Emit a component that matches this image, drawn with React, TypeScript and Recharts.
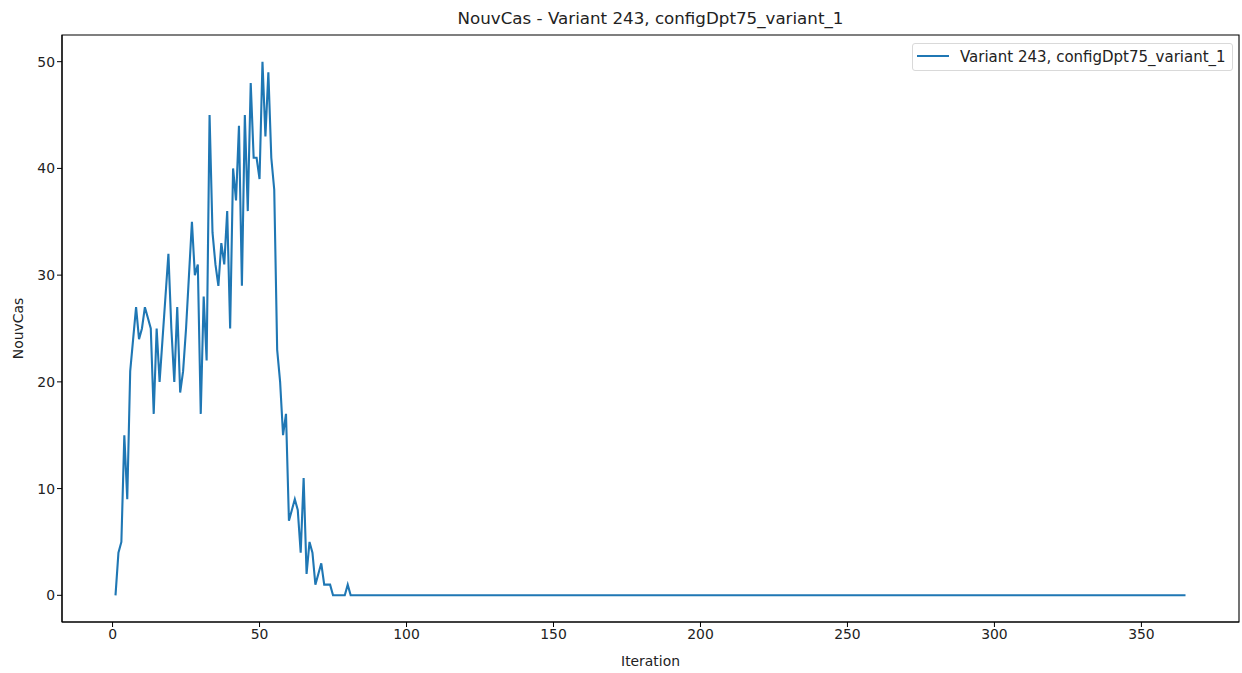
import { LineChart, Line, XAxis, YAxis, ReferenceArea } from "recharts"

// NouvCas per iteration (iterations 1..80)
const nouvCasEarly = [
  0, 4, 5, 15, 9, 21, 24, 27, 24, 25,
  27, 26, 25, 17, 25, 20, 24, 28, 32, 25,
  20, 27, 19, 21, 25, 30, 35, 30, 31, 17,
  28, 22, 45, 34, 31, 29, 33, 31, 36, 25,
  40, 37, 44, 29, 45, 36, 48, 41, 41, 39,
  50, 43, 49, 41, 38, 23, 20, 15, 17, 7,
  8, 9, 8, 4, 11, 2, 5, 4, 1, 2,
  3, 1, 1, 1, 0, 0, 0, 0, 0, 1,
]

// iterations 81..365 stay flat at zero
const nouvCasTail = [
  0, 0, 0, 0, 0, 0, 0, 0, 0, 0, 0, 0, 0, 0, 0,
  0, 0, 0, 0, 0, 0, 0, 0, 0, 0, 0, 0, 0, 0, 0,
  0, 0, 0, 0, 0, 0, 0, 0, 0, 0, 0, 0, 0, 0, 0,
  0, 0, 0, 0, 0, 0, 0, 0, 0, 0, 0, 0, 0, 0, 0,
  0, 0, 0, 0, 0, 0, 0, 0, 0, 0, 0, 0, 0, 0, 0,
  0, 0, 0, 0, 0, 0, 0, 0, 0, 0, 0, 0, 0, 0, 0,
  0, 0, 0, 0, 0, 0, 0, 0, 0, 0, 0, 0, 0, 0, 0,
  0, 0, 0, 0, 0, 0, 0, 0, 0, 0, 0, 0, 0, 0, 0,
  0, 0, 0, 0, 0, 0, 0, 0, 0, 0, 0, 0, 0, 0, 0,
  0, 0, 0, 0, 0, 0, 0, 0, 0, 0, 0, 0, 0, 0, 0,
  0, 0, 0, 0, 0, 0, 0, 0, 0, 0, 0, 0, 0, 0, 0,
  0, 0, 0, 0, 0, 0, 0, 0, 0, 0, 0, 0, 0, 0, 0,
  0, 0, 0, 0, 0, 0, 0, 0, 0, 0, 0, 0, 0, 0, 0,
  0, 0, 0, 0, 0, 0, 0, 0, 0, 0, 0, 0, 0, 0, 0,
  0, 0, 0, 0, 0, 0, 0, 0, 0, 0, 0, 0, 0, 0, 0,
  0, 0, 0, 0, 0, 0, 0, 0, 0, 0, 0, 0, 0, 0, 0,
  0, 0, 0, 0, 0, 0, 0, 0, 0, 0, 0, 0, 0, 0, 0,
  0, 0, 0, 0, 0, 0, 0, 0, 0, 0, 0, 0, 0, 0, 0,
  0, 0, 0, 0, 0, 0, 0, 0, 0, 0, 0, 0, 0, 0, 0,
]

const xTicks = [0, 50, 100, 150, 200, 250, 300, 350]
const yTicks = [0, 10, 20, 30, 40, 50]

const seriesName = "Variant 243, configDpt75_variant_1"
const title = "NouvCas - " + seriesName

const FONT = "'DejaVu Sans', sans-serif"
const LINE_COLOR = "#1f77b4"

// matplotlib style 5% margins around the data
const X_DOMAIN: [number, number] = [-17.2, 383.2]
const Y_DOMAIN: [number, number] = [-2.5, 52.5]

function LegendBox() {
  return (
    <div
      style={{
        position: "absolute",
        top: 43,
        left: 912,
        width: 321,
        height: 28,
        boxSizing: "border-box",
        display: "flex",
        alignItems: "center",
        border: "1px solid #d9d9d9",
        borderRadius: 3,
        background: "rgba(255,255,255,0.8)",
        paddingLeft: 4,
        fontFamily: FONT,
        fontSize: "15px",
        lineHeight: "16px",
        color: "#222",
        whiteSpace: "nowrap",
        zIndex: 2,
      }}
    >
      <svg width={32} height={6} style={{ marginRight: 11, marginTop: -3 }}>
        <line x1={0} y1={3} x2={32} y2={3} stroke={LINE_COLOR} strokeWidth={2} />
      </svg>
      <span>{seriesName}</span>
    </div>
  )
}

export default function App() {
  const all = [...nouvCasEarly, ...nouvCasTail]
  const data = all.map((v, i) => ({ iteration: i + 1, nouvCas: v }))

  const tickStyle = { fontFamily: FONT, fontSize: 13.9, fill: "#222" }

  return (
    <div style={{ position: "absolute", left: 0, top: 0, width: 1242, height: 673, background: "#fff" }}>
      <div
        style={{
          position: "absolute",
          top: 8,
          left: 62,
          width: 1177,
          textAlign: "center",
          fontFamily: FONT,
          fontSize: 16.7,
          color: "#222",
          zIndex: 2,
        }}
      >
        {title}
      </div>
      <LegendBox />
      <LineChart width={1242} height={673} data={data} margin={{ top: 35, right: 3, left: 0, bottom: 21 }}>
        <XAxis
          dataKey="iteration"
          type="number"
          domain={X_DOMAIN}
          allowDataOverflow
          ticks={xTicks}
          tick={tickStyle}
          tickLine={{ stroke: "#000" }}
          axisLine={{ stroke: "#000", strokeWidth: 1.1 }}
          tickSize={5}
          height={30}
          label={{ value: "Iteration", position: "insideBottom", offset: -14, style: { fontFamily: FONT, fontSize: 13.9, fill: "#222" } }}
        />
        <YAxis
          type="number"
          domain={Y_DOMAIN}
          allowDataOverflow
          ticks={yTicks}
          tick={tickStyle}
          tickLine={{ stroke: "#000" }}
          axisLine={{ stroke: "#000", strokeWidth: 1.1 }}
          tickSize={5}
          width={62}
          label={{ value: "NouvCas", angle: -90, position: "insideLeft", offset: 18, style: { fontFamily: FONT, fontSize: 13.9, fill: "#222", textAnchor: "middle" } }}
        />
        <ReferenceArea
          x1={X_DOMAIN[0]}
          x2={X_DOMAIN[1]}
          y1={Y_DOMAIN[0]}
          y2={Y_DOMAIN[1]}
          fill="none"
          stroke="#000"
          strokeWidth={1.1}
        />
        <Line
          type="linear"
          dataKey="nouvCas"
          name={seriesName}
          stroke={LINE_COLOR}
          strokeWidth={2.1}
          dot={false}
          activeDot={false}
          isAnimationActive={false}
        />
      </LineChart>
    </div>
  )
}
